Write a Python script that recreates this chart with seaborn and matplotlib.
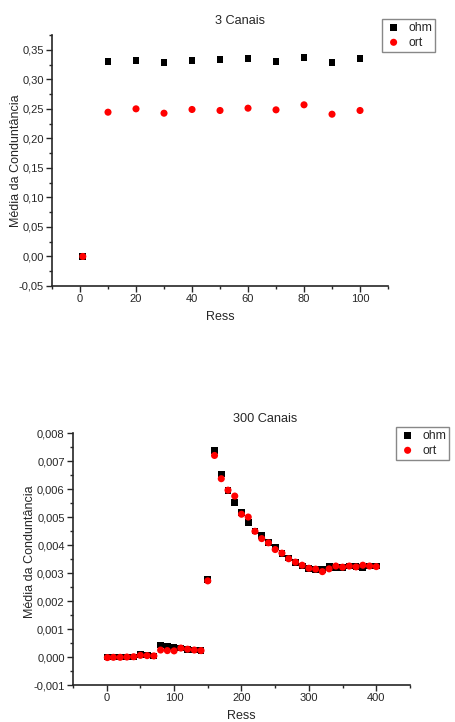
import numpy as np
import pandas as pd
import matplotlib
matplotlib.use("Agg")
import matplotlib.pyplot as plt
import matplotlib.ticker as mticker
import seaborn as sns

# -----------------------------
# Data
# -----------------------------
ress_3 = [1, 10, 20, 30, 40, 50, 60, 70, 80, 90, 100]
ohm_3 = [0.0, 0.3295, 0.3324, 0.3278, 0.3324, 0.3335, 0.3358, 0.3300, 0.3364, 0.3278, 0.3347]
ort_3 = [0.0, 0.2443, 0.2500, 0.2426, 0.2489, 0.2472, 0.2511, 0.2483, 0.2568, 0.2409, 0.2472]

ress_300 = [1] + list(range(10, 401, 10))
ohm_300 = [0.0, 0.0, 0.0, 0.0, 0.0, 0.00010, 0.00007, 0.00004, 0.00043, 0.00038,
           0.00034, 0.00032, 0.00028, 0.00025, 0.00023, 0.00277, 0.00737, 0.00654,
           0.00596, 0.00551, 0.00516, 0.00481, 0.00450, 0.00434, 0.00408, 0.00393,
           0.00371, 0.00354, 0.00339, 0.00325, 0.00317, 0.00314, 0.00314, 0.00325,
           0.00319, 0.00321, 0.00325, 0.00322, 0.00319, 0.00325, 0.00325]
ort_300 = [-0.00002, -0.00001, -0.00001, 0.0, 0.00001, 0.00006, 0.00005, 0.00004,
           0.00025, 0.00023, 0.00022, 0.00032, 0.00028, 0.00025, 0.00023, 0.00272,
           0.00720, 0.00637, 0.00596, 0.00575, 0.00510, 0.00500, 0.00449, 0.00423,
           0.00408, 0.00384, 0.00371, 0.00351, 0.00339, 0.00328, 0.00317, 0.00314,
           0.00305, 0.00315, 0.00325, 0.00321, 0.00325, 0.00322, 0.00328, 0.00325,
           0.00323]

sns.set_style("ticks")
plt.rcParams["font.family"] = ["Liberation Sans", "DejaVu Sans"]

fig = plt.figure(figsize=(4.55, 7.22), dpi=100)
ax1 = fig.add_axes([0.1143, 0.6039, 0.7385, 0.3476])
ax2 = fig.add_axes([0.1604, 0.0512, 0.7407, 0.3490])


def comma_fmt(decimals):
    return mticker.FuncFormatter(lambda v, p: f"{v:.{decimals}f}".replace(".", ","))


def draw(ax, x, ohm, ort, title, title_x, xlim, ylim, xmaj, ymaj, ydec,
         leg_anchor, ylab_xy, xlab_y):
    df = pd.DataFrame({"Ress": x, "ohm": ohm, "ort": ort})
    sns.scatterplot(data=df, x="Ress", y="ohm", ax=ax, marker="s", s=24,
                    color="black", edgecolor="none", label="ohm")
    sns.scatterplot(data=df, x="Ress", y="ort", ax=ax, marker="o", s=26,
                    color="#ff0000", edgecolor="none", label="ort")
    ax.set_xlim(*xlim)
    ax.set_ylim(*ylim)
    ax.xaxis.set_major_locator(mticker.MultipleLocator(xmaj))
    ax.xaxis.set_minor_locator(mticker.MultipleLocator(xmaj / 2))
    ax.yaxis.set_major_locator(mticker.MultipleLocator(ymaj))
    ax.yaxis.set_minor_locator(mticker.MultipleLocator(ymaj / 2))
    ax.yaxis.set_major_formatter(comma_fmt(ydec))
    ax.tick_params(which="major", length=4, width=1, labelsize=8, pad=2)
    ax.tick_params(which="minor", length=2, width=1)
    for s in ["top", "right"]:
        ax.spines[s].set_visible(False)
    for s in ["left", "bottom"]:
        ax.spines[s].set_linewidth(1.2)
    ax.set_xlabel("Ress", fontsize=9)
    ax.set_ylabel("Média da Conduntância", fontsize=9)
    ax.yaxis.set_label_coords(*ylab_xy)
    ax.yaxis.label.set_va("center")
    ax.xaxis.set_label_coords(0.5, xlab_y)
    ax.xaxis.label.set_va("center")
    ax.text(title_x, 1.03, title, transform=ax.transAxes, ha="center",
            va="bottom", fontsize=9.2)
    leg = ax.legend(loc="upper left", bbox_to_anchor=leg_anchor,
                    bbox_transform=fig.transFigure, fontsize=8.8, frameon=True,
                    fancybox=False, edgecolor="#888888", framealpha=1,
                    handletextpad=0.5, borderpad=0.25, labelspacing=0.2,
                    handlelength=1.4, borderaxespad=0)
    leg.get_frame().set_linewidth(1)


draw(ax1, ress_3, ohm_3, ort_3, "3 Canais", 0.56, (-10, 110), (-0.05, 0.375),
     20, 0.05, 2, (382 / 455, 1 - 19 / 722), (-0.107, 0.5), -0.124)
draw(ax2, ress_300, ohm_300, ort_300, "300 Canais", 0.57, (-50, 450), (-0.001, 0.008),
     100, 0.001, 3, (396 / 455, 1 - 427 / 722), (-0.128, 0.53), -0.123)

plt.savefig("out.png", dpi=100)
plt.close()
